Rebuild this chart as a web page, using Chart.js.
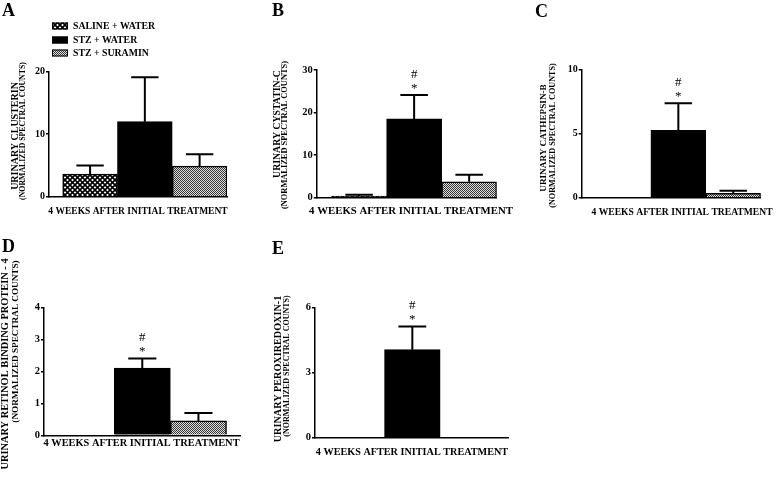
<!DOCTYPE html>
<html>
<head>
<meta charset="utf-8">
<script src="https://cdn.jsdelivr.net/npm/chart.js@4.4.1/dist/chart.umd.min.js"></script>
<style>
  body { margin: 0; background: #fff; width: 776px; height: 481px; position: relative; overflow: hidden; }
  canvas { position: absolute; left: 0; top: 0; }
</style>
</head>
<body>
<canvas id="pA" width="776" height="481"></canvas>
<canvas id="pB" width="776" height="481"></canvas>
<canvas id="pC" width="776" height="481"></canvas>
<canvas id="pD" width="776" height="481"></canvas>
<canvas id="pE" width="776" height="481"></canvas>
<script>
// groups, one bar each
const groups = ['SALINE + WATER', 'STZ + WATER', 'STZ + SURAMIN'];
const groupX = [1, 2, 3];
const xTitle = '4 WEEKS AFTER INITIAL TREATMENT';
const yUnits = '(NORMALIZED SPECTRAL COUNTS)';
const sigMarks = ['#', '*'];

// A: clusterin
const clusterinMean = [3.6, 12.0, 4.9];
const clusterinSem = [1.4, 7.1, 1.9];
const clusterinTicks = [0, 10, 20];
const clusterinSig = [false, false, false];

// B: cystatin-c
const cystatinMean = [0.4, 18.5, 3.75];
const cystatinSem = [0.3, 5.6, 1.65];
const cystatinTicks = [0, 10, 20, 30];
const cystatinSig = [false, true, false];

// C: cathepsin-b
const cathepsinMean = [null, 5.25, 0.35];
const cathepsinSem = [null, 2.1, 0.2];
const cathepsinTicks = [0, 5, 10];
const cathepsinSig = [false, true, false];

// D: retinol binding protein 4
const rbp4Mean = [null, 2.1, 0.45];
const rbp4Sem = [null, 0.3, 0.25];
const rbp4Ticks = [0, 1, 2, 3, 4];
const rbp4Sig = [false, true, false];

// E: peroxiredoxin-1
const prdxMean = [null, 4.05, null];
const prdxSem = [null, 1.07, null];
const prdxTicks = [0, 3, 6];
const prdxSig = [false, true, false];

const FONT = '"Liberation Serif", "Times New Roman", serif';
const Y_W = 30, X_H = 4;

function makePattern(kind) {
  const c = document.createElement('canvas');
  const g = c.getContext('2d');
  if (kind === 'cross') {
    c.width = 5; c.height = 5;
    g.fillStyle = '#fff'; g.fillRect(0, 0, 5, 5);
    g.strokeStyle = '#000'; g.lineWidth = 1.6;
    g.beginPath();
    g.moveTo(-1, -1); g.lineTo(6, 6);
    g.moveTo(6, -1); g.lineTo(-1, 6);
    g.stroke();
  } else {
    c.width = 2; c.height = 2;
    g.fillStyle = '#e0e0e0'; g.fillRect(0, 0, 2, 2);
    g.fillStyle = '#333'; g.fillRect(0, 0, 1, 1); g.fillRect(1, 1, 1, 1);
  }
  return g.createPattern(c, 'repeat');
}
const fills = [makePattern('cross'), '#000', makePattern('dots')];

// layout of each panel (page pixels)
const panels = [
  { id: 'pA', letter: 'A', lpos: [2, 15.5], area: [49, 71.7, 227, 196.7], xr: [0.25, 3.5],
    mean: clusterinMean, sem: clusterinSem, ticks: clusterinTicks, sig: clusterinSig, tickSize: 10,
    name: 'URINARY CLUSTERIN', t1: [15, 136, 10], t2: [23, 131, 7.8], xt: [138, 212, 9.5], legend: true },
  { id: 'pB', letter: 'B', lpos: [272, 15.5], area: [316.7, 70, 496.7, 197.7], xr: [0.23, 3.5],
    mean: cystatinMean, sem: cystatinSem, ticks: cystatinTicks, sig: cystatinSig, tickSize: 10.5,
    name: 'URINARY CYSTATIN-C', t1: [277, 124, 9.8], t2: [285, 135, 8.4], xt: [411, 211, 10.8] },
  { id: 'pC', letter: 'C', lpos: [535, 17], area: [581.7, 69.3, 760.7, 197.7], xr: [0.24, 3.5],
    mean: cathepsinMean, sem: cathepsinSem, ticks: cathepsinTicks, sig: cathepsinSig, tickSize: 10,
    name: 'URINARY CATHEPSIN-B', t1: [544, 138, 9.2], t2: [553, 135.5, 8.2], xt: [682, 213, 9.6] },
  { id: 'pD', letter: 'D', lpos: [2, 252], area: [44, 307.3, 240, 435.3], xr: [0.25, 3.74],
    mean: rbp4Mean, sem: rbp4Sem, ticks: rbp4Ticks, sig: rbp4Sig, tickSize: 10.5,
    name: 'URINARY RETINOL BINDING PROTEIN - 4', t1: [5, 364, 10.4], t2: [15.5, 341.5, 9.2], xt: [141.5, 443, 10.4] },
  { id: 'pE', letter: 'E', lpos: [272, 253.5], area: [315, 307.3, 508, 437.7], xr: [0.25, 3.72],
    mean: prdxMean, sem: prdxSem, ticks: prdxTicks, sig: prdxSig, tickSize: 10.5,
    name: 'URINARY PEROXIREDOXIN-1', t1: [278, 369, 10.2], t2: [287, 366, 8], xt: [412, 452, 10.2] }
];

function vText(ctx, text, x, y, size) {
  ctx.save();
  ctx.translate(x, y);
  ctx.rotate(-Math.PI / 2);
  ctx.font = 'bold ' + size + 'px ' + FONT;
  ctx.textAlign = 'center';
  ctx.textBaseline = 'middle';
  ctx.fillText(text, 0, 0);
  ctx.restore();
}

function extras(p) {
  return {
    id: 'extras' + p.letter,
    afterDatasetsDraw(chart) {
      const { ctx, scales: { x, y } } = chart;
      const bars = chart.getDatasetMeta(0).data;
      ctx.save();
      ctx.strokeStyle = '#000';
      ctx.fillStyle = '#000';
      ctx.lineWidth = 2;
      p.mean.forEach((m, i) => {
        if (m == null || !p.sem[i]) return;
        const cx = x.getPixelForValue(groupX[i]);
        const y0 = y.getPixelForValue(m);
        const y1 = y.getPixelForValue(m + p.sem[i]);
        const half = bars[i].width / 4;
        ctx.beginPath();
        ctx.moveTo(cx, y0); ctx.lineTo(cx, y1);
        ctx.moveTo(cx - half, y1); ctx.lineTo(cx + half, y1);
        ctx.stroke();
        if (p.sig[i]) {
          ctx.textAlign = 'center';
          ctx.textBaseline = 'middle';
          ctx.font = '13px ' + FONT;
          ctx.fillText(sigMarks[0], cx, y1 - 21);
          ctx.font = '13px ' + FONT;
          ctx.fillText(sigMarks[1], cx, y1 - 7);
        }
      });
      ctx.restore();
    },
    afterDraw(chart) {
      const ctx = chart.ctx;
      ctx.save();
      ctx.fillStyle = '#000';
      ctx.font = 'bold 18px ' + FONT;
      ctx.textAlign = 'left';
      ctx.textBaseline = 'alphabetic';
      ctx.fillText(p.letter, p.lpos[0], p.lpos[1]);
      vText(ctx, p.name, p.t1[0], p.t1[1], p.t1[2]);
      vText(ctx, yUnits, p.t2[0], p.t2[1], p.t2[2]);
      ctx.font = 'bold ' + p.xt[2] + 'px ' + FONT;
      ctx.textAlign = 'center';
      ctx.textBaseline = 'middle';
      ctx.fillText(xTitle, p.xt[0], p.xt[1]);
      if (p.legend) {
        const rows = [26, 40, 53];
        ctx.font = 'bold 9.8px ' + FONT;
        ctx.textAlign = 'left';
        groups.forEach((g, i) => {
          ctx.fillStyle = fills[i];
          ctx.fillRect(52, rows[i] - 3.5, 16, 7);
          ctx.strokeStyle = '#000';
          ctx.lineWidth = 1;
          ctx.strokeRect(52.5, rows[i] - 3, 15, 6);
          ctx.fillStyle = '#000';
          ctx.fillText(g, 73, rows[i]);
        });
      }
      ctx.restore();
    }
  };
}

panels.forEach(p => {
  const [l, t, r, b] = p.area;
  new Chart(document.getElementById(p.id), {
    type: 'bar',
    data: {
      datasets: [{
        data: p.mean.map((v, i) => ({ x: groupX[i], y: v })),
        backgroundColor: fills,
        borderColor: '#000',
        borderWidth: 1.5,
        grouped: false,
        barPercentage: 1,
        categoryPercentage: 1
      }]
    },
    options: {
      responsive: false,
      animation: false,
      events: [],
      layout: { padding: { left: l - Y_W, top: t, right: 776 - r, bottom: 481 - b - X_H } },
      plugins: { legend: { display: false }, tooltip: { enabled: false } },
      scales: {
        x: {
          type: 'linear', min: p.xr[0], max: p.xr[1], offset: false,
          ticks: { display: false, stepSize: 1, includeBounds: false },
          grid: { display: false, offset: false },
          border: { color: '#000', width: 1.5 },
          afterFit: s => { s.height = X_H; }
        },
        y: {
          min: p.ticks[0], max: p.ticks[p.ticks.length - 1],
          ticks: {
            stepSize: p.ticks[1] - p.ticks[0], color: '#000', padding: 1,
            font: { family: FONT, weight: 'bold', size: p.tickSize }
          },
          grid: { drawOnChartArea: false, color: '#000', tickLength: 3, lineWidth: 1.5 },
          border: { color: '#000', width: 1.5 },
          afterFit: s => { s.width = Y_W; }
        }
      }
    },
    plugins: [extras(p)]
  });
});
</script>
</body>
</html>
